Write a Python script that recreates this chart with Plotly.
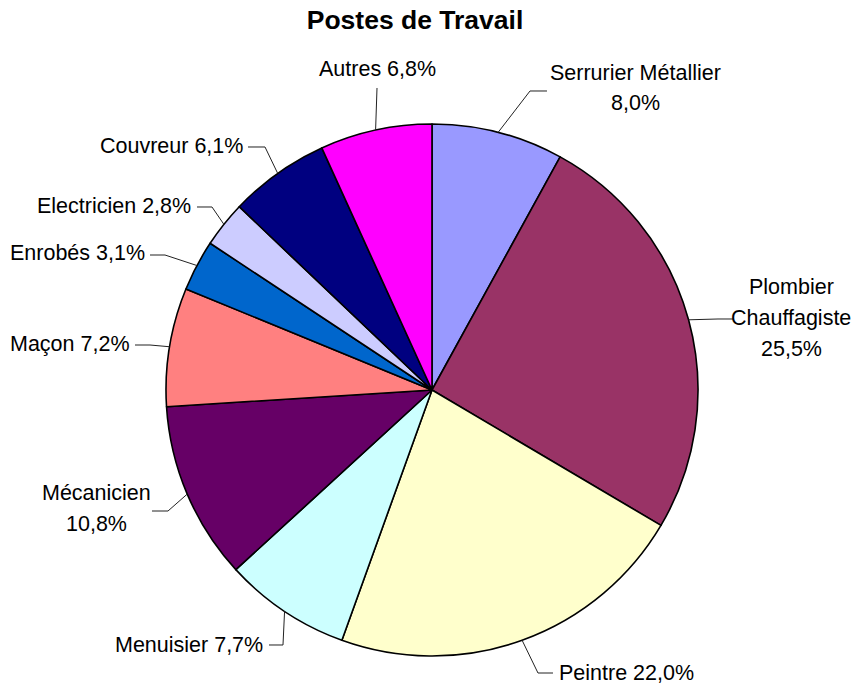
import math
import plotly.graph_objects as go

# ---------------- data ----------------
categories = ["Serrurier Métallier", "Plombier Chauffagiste", "Peintre", "Menuisier",
              "Mécanicien", "Maçon", "Enrobés", "Electricien", "Couvreur", "Autres"]
values = [8.0, 25.5, 22.0, 7.7, 10.8, 7.2, 3.1, 2.8, 6.1, 6.8]
# how the category name is broken over lines in the label ("|" = line break)
label_names = ["Serrurier Métallier|", "Plombier|Chauffagiste|", "Peintre ", "Menuisier ",
               "Mécanicien|", "Maçon ", "Enrobés ", "Electricien ", "Couvreur ", "Autres "]
colors = ["#9999FF", "#993366", "#FFFFCC", "#CCFFFF", "#660066",
          "#FF8080", "#0066CC", "#CCCCFF", "#000080", "#FF00FF"]
title = "Postes de Travail"

# ---------------- layout (pixels) ----------------
W, H = 857, 684
CX, CY, R = 432, 390, 266
FONT = "Liberation Sans, Arial, sans-serif"
LABEL_SIZE = 21.5
LINE_GAP = 31

# label placement: text anchor (x, y, xanchor) and leader elbow/end points
label_layout = [
    dict(x=635, y=88, xa="center", pts=[(530, 91), (547, 91)]),
    dict(x=791, y=318, xa="center", pts=[(718, 319), (733, 319)]),
    dict(x=557, y=673, xa="left", pts=[(538, 673), (553, 673)]),
    dict(x=265, y=645, xa="right", pts=[(283, 645), (269, 645)]),
    dict(x=96, y=508, xa="center", pts=[(168, 511), (152, 511)]),
    dict(x=132, y=344, xa="right", pts=[(150, 345), (135, 345)]),
    dict(x=147, y=253, xa="right", pts=[(165, 255), (150, 255)]),
    dict(x=193, y=206, xa="right", pts=[(212, 207), (197, 207)]),
    dict(x=245, y=146, xa="right", pts=[(265, 147), (248, 147)]),
    dict(x=377, y=69, xa="center", pts=[(377, 88)]),
]


def px(x, y):
    return x / W, 1 - y / H


fig = go.Figure(go.Pie(
    labels=categories,
    values=values,
    sort=False,
    direction="clockwise",
    rotation=0,
    marker=dict(colors=colors, line=dict(color="black", width=1.6)),
    textinfo="none",
    hoverinfo="label+percent",
    showlegend=False,
    domain=dict(x=[(CX - R) / W, (CX + R) / W], y=[1 - (CY + R) / H, 1 - (CY - R) / H]),
))

total = sum(values)
cum = 0.0
annotations = []
shapes = []
for name, v, lay in zip(label_names, values, label_layout):
    mid = (cum + v / 2) / total * 2 * math.pi
    cum += v
    ex = CX + R * math.sin(mid)
    ey = CY - R * math.cos(mid)
    pts = [(ex, ey)] + lay["pts"]
    path = ""
    for i, (x, y) in enumerate(pts):
        a, b = px(x, y)
        path += ("M" if i == 0 else " L") + f" {a:.5f} {b:.5f}"
    shapes.append(dict(type="path", path=path, xref="paper", yref="paper",
                       line=dict(color="#222222", width=1)))
    pct = f"{v / total * 100:.1f}%".replace(".", ",")
    lines = (name + pct).split("|")
    n = len(lines)
    for i, line in enumerate(lines):
        ax, ay = px(lay["x"], lay["y"] + (i - (n - 1) / 2) * LINE_GAP)
        annotations.append(dict(text=line, x=ax, y=ay, xref="paper", yref="paper",
                                xanchor=lay["xa"], yanchor="middle", showarrow=False,
                                font=dict(family=FONT, size=LABEL_SIZE, color="black")))

fig.update_layout(
    width=W, height=H,
    margin=dict(l=0, r=0, t=0, b=0),
    paper_bgcolor="white", plot_bgcolor="white",
    title=dict(text="<b>" + title + "</b>", x=415 / W, xanchor="center", y=1 - 20 / H, yanchor="middle",
               font=dict(family=FONT, size=26.5, color="black")),
    annotations=annotations,
    shapes=shapes,
)

fig.write_html("out.html", config={"displayModeBar": False},
               post_script="document.body.style.margin='0';")
